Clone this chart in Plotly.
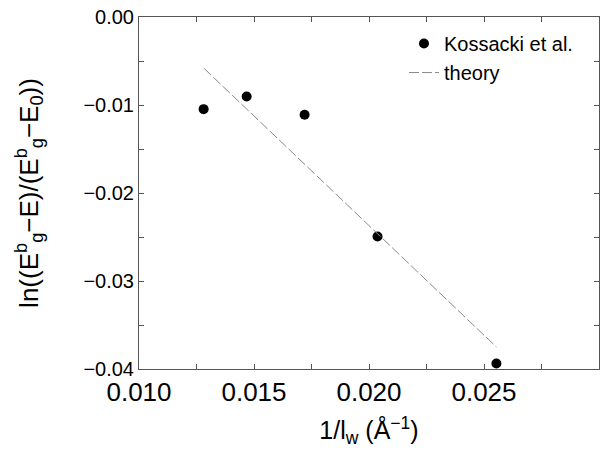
import plotly.graph_objects as go

# Data
exp_x = [0.01281, 0.01468, 0.01720, 0.02037, 0.02554]
exp_y = [-0.01047, -0.00903, -0.01110, -0.02494, -0.03938]
theory_x = [0.01282, 0.02554]
theory_y = [-0.00582, -0.03750]
x_tickvals = [0.010, 0.015, 0.020, 0.025]
x_ticktext = ["0.010", "0.015", "0.020", "0.025"]
y_tickvals = [-0.04, -0.03, -0.02, -0.01, 0.00]
y_ticktext = ["\u22120.04", "\u22120.03", "\u22120.02", "\u22120.01", "0.00"]

FONT = "Liberation Sans, Arial, Helvetica, sans-serif"

fig = go.Figure()
fig.add_trace(go.Scatter(
    x=exp_x, y=exp_y, mode="markers", name="Kossacki et al.",
    marker=dict(color="black", size=10),
))
fig.add_trace(go.Scatter(
    x=theory_x, y=theory_y, mode="lines", name="theory",
    line=dict(color="#8a8a8a", width=1, dash="10px,3px"),
))

axis_common = dict(
    showline=True, linecolor="#555555", linewidth=1, mirror="ticks",
    ticks="inside", ticklen=5, tickcolor="#555555",
    showgrid=False, zeroline=False, automargin=False,
    ticklabeloverflow="allow",
)

fig.update_xaxes(
    range=[0.010, 0.030], tickvals=x_tickvals, ticktext=x_ticktext,
    tickfont=dict(size=26, color="black", family=FONT),
    minor=dict(ticks="inside", ticklen=5, tickcolor="#555555", tick0=0.0125, dtick=0.005, showgrid=False),
    title=dict(text="1/l<sub>w</sub> (Å<sup>\u22121</sup>)", font=dict(size=25, color="black", family=FONT), standoff=15),
    **axis_common,
)
fig.update_yaxes(
    range=[-0.04, 0.0], tickvals=y_tickvals, ticktext=y_ticktext,
    tickfont=dict(size=20, color="black", family=FONT),
    minor=dict(ticks="inside", ticklen=5, tickcolor="#555555", tick0=-0.005, dtick=0.01, showgrid=False),
    title=dict(text="ln((E<sup>b</sup><sub>g</sub>\u2212E)/(E<sup>b</sup><sub>g</sub>\u2212E<sub>0</sub>))",
               font=dict(size=26, color="black", family=FONT), standoff=37),
    **axis_common,
)

fig.update_layout(
    width=600, height=449,
    margin=dict(l=139, r=1, t=17, b=80),
    paper_bgcolor="white", plot_bgcolor="white",
    font=dict(family=FONT, color="black"),
    legend=dict(x=0.576, y=0.98, xanchor="left", yanchor="top",
                font=dict(size=20, color="black", family=FONT),
                bgcolor="rgba(0,0,0,0)", tracegroupgap=0, itemwidth=30),
)

# Remove the browser's default 8px page margin so the figure fills the window
fig.write_html(
    "out.html",
    config={"displayModeBar": False},
    post_script="document.body.style.margin='0';document.body.style.overflow='hidden';",
)
